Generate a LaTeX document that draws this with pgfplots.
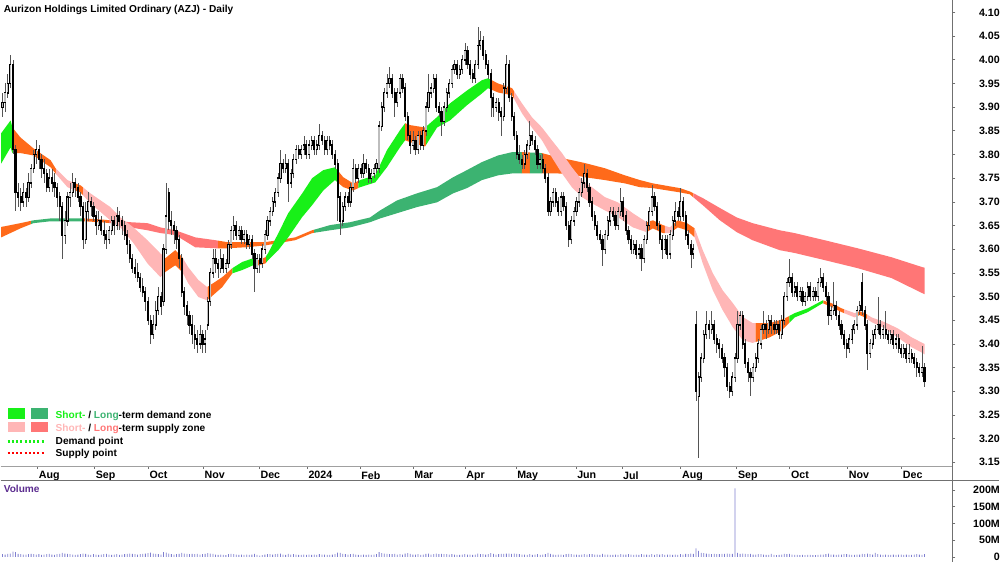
\documentclass[border=0pt]{standalone}
\usepackage{pgfplots}
\pgfplotsset{compat=1.18}
\usepackage{pgfplotstable}
\usepgfplotslibrary{fillbetween}
\usepackage{fontspec}
\setmainfont{Liberation Sans}
\definecolor{sdem}{HTML}{18F018}
\definecolor{ldem}{HTML}{3CB371}
\definecolor{ssup}{HTML}{FFB6B6}
\definecolor{lsup}{HTML}{FF7676}
\definecolor{ovl}{HTML}{FF6A1A}
\definecolor{volc}{HTML}{7F7FD0}
\definecolor{volt}{HTML}{5B2C8F}
\definecolor{upc}{HTML}{BDBDBD}
\definecolor{wick}{HTML}{555555}
\definecolor{axc}{HTML}{A0A0A0}
\definecolor{axd}{HTML}{707070}

\pgfplotstableread{
i o h l c v
0 3.90 3.93 3.88 3.91 8
1 3.91 3.95 3.89 3.93 7
2 3.93 3.97 3.92 3.95 9
3 3.95 4.01 3.94 3.99 10
4 3.99 4.00 3.80 3.81 16
5 3.81 3.82 3.68 3.72 14
6 3.72 3.74 3.69 3.71 9
7 3.71 3.73 3.68 3.70 8
8 3.70 3.74 3.69 3.72 7
9 3.72 3.73 3.69 3.71 7
10 3.71 3.76 3.70 3.74 8
11 3.74 3.78 3.73 3.77 9
12 3.77 3.81 3.76 3.80 8
13 3.80 3.83 3.78 3.81 7
14 3.81 3.82 3.77 3.79 8
15 3.79 3.80 3.75 3.77 6
16 3.77 3.79 3.74 3.76 7
17 3.76 3.77 3.72 3.73 8
18 3.73 3.77 3.72 3.75 9
19 3.75 3.77 3.72 3.74 7
20 3.74 3.76 3.71 3.73 6
21 3.73 3.74 3.69 3.71 8
22 3.71 3.72 3.66 3.69 9
23 3.69 3.70 3.58 3.63 12
24 3.63 3.68 3.61 3.66 10
25 3.66 3.72 3.65 3.71 9
26 3.71 3.74 3.69 3.72 8
27 3.72 3.76 3.71 3.74 7
28 3.74 3.75 3.71 3.73 6
29 3.73 3.74 3.70 3.71 7
30 3.71 3.72 3.67 3.69 8
31 3.69 3.70 3.60 3.62 10
32 3.62 3.70 3.61 3.68 9
33 3.68 3.72 3.66 3.70 7
34 3.70 3.71 3.67 3.69 6
35 3.69 3.70 3.66 3.67 8
36 3.67 3.68 3.63 3.65 7
37 3.65 3.68 3.64 3.66 6
38 3.66 3.67 3.63 3.64 7
39 3.64 3.66 3.61 3.63 8
40 3.63 3.64 3.60 3.62 9
41 3.62 3.65 3.61 3.64 7
42 3.64 3.67 3.63 3.66 6
43 3.66 3.67 3.63 3.65 7
44 3.65 3.69 3.64 3.67 8
45 3.67 3.68 3.64 3.66 6
46 3.66 3.67 3.63 3.65 7
47 3.65 3.66 3.62 3.63 8
48 3.63 3.64 3.59 3.61 9
49 3.61 3.62 3.57 3.58 10
50 3.58 3.59 3.55 3.56 9
51 3.56 3.58 3.54 3.55 8
52 3.55 3.57 3.53 3.54 7
53 3.54 3.55 3.51 3.52 8
54 3.52 3.54 3.50 3.51 9
55 3.51 3.52 3.47 3.49 10
56 3.49 3.50 3.44 3.45 11
57 3.45 3.46 3.40 3.42 13
58 3.42 3.46 3.41 3.44 10
59 3.44 3.49 3.43 3.47 9
60 3.47 3.52 3.46 3.50 8
61 3.50 3.51 3.46 3.48 7
62 3.49 3.61 3.48 3.60 14
63 3.60 3.74 3.59 3.67 13
64 3.72 3.73 3.64 3.66 10
65 3.66 3.68 3.63 3.65 8
66 3.65 3.66 3.61 3.64 7
67 3.64 3.65 3.60 3.62 8
68 3.62 3.63 3.56 3.58 9
69 3.58 3.59 3.50 3.51 12
70 3.51 3.52 3.46 3.48 10
71 3.48 3.49 3.44 3.46 9
72 3.46 3.47 3.42 3.44 8
73 3.44 3.46 3.40 3.42 9
74 3.42 3.44 3.39 3.41 8
75 3.41 3.43 3.38 3.40 9
76 3.40 3.44 3.39 3.42 7
77 3.42 3.43 3.38 3.40 8
78 3.40 3.43 3.38 3.41 9
79 3.44 3.50 3.43 3.49 11
80 3.49 3.56 3.48 3.55 10
81 3.55 3.60 3.54 3.58 9
82 3.58 3.60 3.55 3.57 7
83 3.57 3.58 3.54 3.56 6
84 3.56 3.60 3.55 3.58 7
85 3.58 3.59 3.55 3.56 6
86 3.56 3.58 3.55 3.57 5
87 3.57 3.62 3.56 3.61 8
88 3.61 3.65 3.60 3.64 9
89 3.64 3.67 3.62 3.65 8
90 3.65 3.66 3.62 3.63 7
91 3.63 3.65 3.62 3.64 6
92 3.64 3.65 3.61 3.62 7
93 3.62 3.64 3.61 3.63 6
94 3.63 3.64 3.60 3.61 7
95 3.61 3.63 3.60 3.62 6
96 3.62 3.63 3.58 3.59 7
97 3.59 3.60 3.51 3.56 9
98 3.56 3.59 3.55 3.58 6
99 3.58 3.59 3.55 3.57 4
100 3.57 3.61 3.56 3.60 5
101 3.60 3.64 3.59 3.63 7
102 3.63 3.67 3.62 3.66 8
103 3.66 3.69 3.65 3.68 8
104 3.68 3.71 3.67 3.70 7
105 3.70 3.73 3.69 3.72 8
106 3.72 3.76 3.71 3.75 9
107 3.75 3.81 3.74 3.78 10
108 3.78 3.79 3.76 3.77 7
109 3.77 3.80 3.76 3.78 6
110 3.78 3.79 3.70 3.74 9
111 3.74 3.77 3.73 3.76 7
112 3.76 3.80 3.75 3.79 8
113 3.79 3.82 3.78 3.81 7
114 3.81 3.82 3.79 3.80 6
115 3.80 3.82 3.79 3.81 6
116 3.81 3.84 3.80 3.82 7
117 3.82 3.83 3.79 3.80 6
118 3.80 3.83 3.79 3.82 7
119 3.82 3.84 3.81 3.83 6
120 3.83 3.84 3.80 3.81 7
121 3.81 3.83 3.80 3.82 6
122 3.82 3.865 3.81 3.84 8
123 3.84 3.85 3.82 3.83 7
124 3.83 3.84 3.80 3.81 7
125 3.81 3.84 3.80 3.83 6
126 3.83 3.84 3.81 3.82 6
127 3.82 3.83 3.79 3.80 7
128 3.80 3.81 3.77 3.78 8
129 3.78 3.79 3.66 3.71 13
130 3.71 3.72 3.63 3.66 12
131 3.66 3.70 3.65 3.69 9
132 3.69 3.72 3.68 3.71 8
133 3.71 3.72 3.69 3.70 7
134 3.70 3.74 3.69 3.73 8
135 3.73 3.79 3.72 3.77 9
136 3.77 3.78 3.74 3.75 7
137 3.75 3.78 3.74 3.77 6
138 3.77 3.78 3.75 3.76 6
139 3.76 3.80 3.75 3.78 7
140 3.78 3.79 3.76 3.77 6
141 3.77 3.78 3.74 3.75 7
142 3.75 3.77 3.74 3.76 6
143 3.76 3.78 3.75 3.77 7
144 3.77 3.79 3.76 3.78 8
145 3.77 3.87 3.76 3.86 14
146 3.86 3.91 3.85 3.90 11
147 3.90 3.94 3.89 3.93 10
148 3.93 3.97 3.92 3.95 9
149 3.95 3.985 3.94 3.96 8
150 3.96 3.97 3.92 3.93 8
151 3.93 3.94 3.88 3.91 9
152 3.91 3.94 3.90 3.93 7
153 3.93 3.97 3.92 3.96 8
154 3.96 3.97 3.93 3.94 7
155 3.94 3.95 3.87 3.88 10
156 3.88 3.89 3.83 3.84 11
157 3.84 3.85 3.80 3.82 9
158 3.82 3.85 3.81 3.83 7
159 3.83 3.84 3.80 3.81 7
160 3.81 3.85 3.80 3.84 8
161 3.84 3.85 3.81 3.82 6
162 3.82 3.86 3.81 3.85 7
163 3.85 3.91 3.84 3.90 9
164 3.90 3.97 3.89 3.93 10
165 3.93 3.95 3.92 3.94 7
166 3.94 3.97 3.93 3.96 8
167 3.96 3.97 3.89 3.90 10
168 3.90 3.91 3.88 3.89 8
169 3.89 3.90 3.84 3.87 9
170 3.87 3.91 3.86 3.90 8
171 3.90 3.94 3.89 3.93 8
172 3.93 3.96 3.92 3.95 7
173 3.95 3.99 3.94 3.98 8
174 3.98 4.00 3.97 3.99 7
175 3.99 4.00 3.96 3.97 6
176 3.97 3.99 3.96 3.98 6
177 3.98 4.01 3.97 4.00 7
178 4.00 4.035 3.99 4.02 8
179 4.02 4.03 3.98 3.99 7
180 3.99 4.00 3.96 3.97 7
181 3.97 3.98 3.95 3.96 6
182 3.96 4.00 3.95 3.99 7
183 3.99 4.07 3.98 4.03 10
184 4.03 4.06 4.02 4.04 8
185 4.04 4.05 4.00 4.01 8
186 4.01 4.02 3.98 3.99 7
187 3.99 4.00 3.96 3.97 8
188 3.97 3.98 3.88 3.92 11
189 3.92 3.93 3.88 3.90 9
190 3.90 3.92 3.89 3.91 7
191 3.91 3.92 3.87 3.89 8
192 3.89 3.90 3.84 3.88 9
193 3.88 3.95 3.87 3.94 9
194 3.94 4.01 3.93 3.99 10
195 3.99 4.00 3.91 3.92 10
196 3.92 3.93 3.87 3.88 9
197 3.88 3.89 3.83 3.84 10
198 3.84 3.85 3.79 3.80 9
199 3.80 3.82 3.78 3.79 8
200 3.79 3.80 3.77 3.78 7
201 3.78 3.81 3.77 3.80 7
202 3.80 3.83 3.79 3.82 6
203 3.82 3.87 3.81 3.84 8
204 3.84 3.85 3.82 3.83 6
205 3.83 3.84 3.80 3.81 7
206 3.81 3.82 3.77 3.78 8
207 3.78 3.80 3.77 3.79 6
208 3.79 3.80 3.76 3.77 7
209 3.77 3.78 3.74 3.75 8
210 3.75 3.76 3.67 3.68 12
211 3.68 3.71 3.67 3.70 9
212 3.70 3.73 3.69 3.72 7
213 3.72 3.73 3.69 3.70 6
214 3.70 3.71 3.67 3.68 7
215 3.68 3.72 3.67 3.71 7
216 3.71 3.72 3.68 3.69 6
217 3.69 3.70 3.64 3.65 8
218 3.65 3.66 3.605 3.62 9
219 3.62 3.67 3.61 3.66 8
220 3.66 3.69 3.65 3.68 7
221 3.68 3.71 3.67 3.70 7
222 3.70 3.73 3.69 3.72 6
223 3.72 3.75 3.71 3.74 7
224 3.74 3.78 3.73 3.76 8
225 3.76 3.77 3.72 3.73 7
226 3.73 3.74 3.69 3.70 8
227 3.70 3.71 3.66 3.67 8
228 3.67 3.68 3.64 3.65 7
229 3.65 3.66 3.62 3.63 7
230 3.63 3.64 3.61 3.62 6
231 3.62 3.63 3.565 3.60 9
232 3.60 3.64 3.59 3.63 7
233 3.63 3.67 3.62 3.66 7
234 3.66 3.69 3.65 3.68 6
235 3.68 3.69 3.66 3.67 6
236 3.67 3.68 3.64 3.65 7
237 3.65 3.69 3.64 3.68 6
238 3.68 3.73 3.67 3.70 8
239 3.70 3.71 3.66 3.67 7
240 3.67 3.68 3.63 3.64 7
241 3.64 3.65 3.61 3.62 8
242 3.62 3.63 3.59 3.60 7
243 3.60 3.62 3.59 3.61 6
244 3.61 3.62 3.58 3.59 7
245 3.59 3.61 3.58 3.60 6
246 3.60 3.61 3.555 3.58 8
247 3.58 3.63 3.57 3.62 7
248 3.62 3.66 3.61 3.65 7
249 3.65 3.69 3.64 3.68 6
250 3.68 3.735 3.67 3.71 8
251 3.71 3.72 3.68 3.69 6
252 3.69 3.70 3.64 3.65 8
253 3.65 3.66 3.61 3.62 7
254 3.62 3.63 3.58 3.60 8
255 3.60 3.63 3.59 3.62 6
256 3.62 3.63 3.58 3.59 7
257 3.59 3.64 3.58 3.63 7
258 3.63 3.67 3.62 3.66 6
259 3.66 3.70 3.65 3.68 7
260 3.68 3.69 3.66 3.67 6
261 3.67 3.73 3.66 3.70 8
262 3.70 3.71 3.66 3.67 7
263 3.67 3.68 3.62 3.63 9
264 3.63 3.64 3.60 3.61 8
265 3.61 3.62 3.56 3.59 10
266 3.59 3.61 3.58 3.60 9
267 3.44 3.47 3.28 3.30 25
268 3.29 3.34 3.16 3.33 18
269 3.33 3.38 3.32 3.37 12
270 3.37 3.43 3.36 3.42 11
271 3.42 3.47 3.41 3.44 10
272 3.44 3.45 3.41 3.43 9
273 3.43 3.47 3.42 3.44 8
274 3.44 3.45 3.40 3.41 9
275 3.41 3.42 3.38 3.40 8
276 3.40 3.41 3.37 3.39 8
277 3.39 3.40 3.36 3.37 9
278 3.37 3.38 3.33 3.35 9
279 3.35 3.36 3.30 3.31 10
280 3.31 3.32 3.285 3.30 9
281 3.30 3.34 3.29 3.33 9
282 3.33 3.38 3.32 3.37 205
283 3.37 3.47 3.36 3.44 12
284 3.44 3.47 3.43 3.46 9
285 3.46 3.47 3.39 3.40 10
286 3.40 3.41 3.35 3.36 9
287 3.36 3.37 3.32 3.34 8
288 3.34 3.35 3.29 3.33 9
289 3.33 3.36 3.32 3.35 7
290 3.35 3.38 3.34 3.37 7
291 3.37 3.41 3.36 3.40 8
292 3.40 3.44 3.39 3.43 8
293 3.43 3.47 3.42 3.44 7
294 3.44 3.45 3.41 3.43 6
295 3.43 3.46 3.42 3.45 6
296 3.45 3.46 3.42 3.44 9
297 3.44 3.45 3.42 3.43 6
298 3.43 3.45 3.42 3.44 5
299 3.44 3.45 3.41 3.42 6
300 3.42 3.46 3.41 3.45 7
301 3.45 3.51 3.44 3.50 9
302 3.50 3.54 3.49 3.53 8
303 3.53 3.58 3.52 3.54 9
304 3.54 3.55 3.50 3.51 7
305 3.51 3.53 3.50 3.52 6
306 3.52 3.53 3.49 3.50 6
307 3.50 3.52 3.49 3.51 5
308 3.51 3.52 3.48 3.49 6
309 3.49 3.51 3.48 3.50 5
310 3.50 3.53 3.49 3.52 6
311 3.52 3.53 3.49 3.50 6
312 3.50 3.52 3.49 3.51 5
313 3.51 3.52 3.49 3.50 5
314 3.50 3.54 3.49 3.53 6
315 3.53 3.56 3.52 3.54 7
316 3.54 3.55 3.51 3.52 7
317 3.52 3.53 3.49 3.50 8
318 3.50 3.51 3.44 3.46 10
319 3.46 3.48 3.45 3.47 7
320 3.47 3.53 3.46 3.48 7
321 3.48 3.49 3.45 3.46 6
322 3.46 3.47 3.43 3.44 7
323 3.44 3.45 3.41 3.42 7
324 3.42 3.43 3.39 3.40 8
325 3.40 3.41 3.37 3.39 8
326 3.39 3.42 3.38 3.41 7
327 3.41 3.44 3.40 3.43 6
328 3.43 3.45 3.42 3.44 6
329 3.44 3.48 3.43 3.47 7
330 3.47 3.49 3.46 3.48 7
331 3.53 3.55 3.46 3.47 9
332 3.47 3.48 3.43 3.44 8
333 3.44 3.45 3.345 3.38 10
334 3.38 3.41 3.37 3.40 8
335 3.40 3.43 3.39 3.42 7
336 3.42 3.44 3.41 3.43 12
337 3.43 3.50 3.42 3.44 8
338 3.44 3.45 3.41 3.42 7
339 3.42 3.44 3.41 3.43 6
340 3.43 3.47 3.41 3.42 7
341 3.42 3.43 3.40 3.41 6
342 3.41 3.43 3.40 3.42 6
343 3.42 3.43 3.39 3.40 7
344 3.40 3.42 3.39 3.41 6
345 3.41 3.42 3.38 3.39 7
346 3.39 3.40 3.37 3.38 7
347 3.38 3.40 3.37 3.39 6
348 3.39 3.40 3.36 3.37 7
349 3.37 3.40 3.36 3.38 6
350 3.38 3.39 3.36 3.37 6
351 3.37 3.38 3.35 3.36 7
352 3.36 3.37 3.33 3.35 8
353 3.35 3.36 3.33 3.34 7
354 3.34 3.395 3.33 3.35 6
355 3.35 3.36 3.31 3.32 8
}\ohlc

\pgfplotstableread{
i t b
-0.5 3.845 3.781
3.1 3.872 3.815
3.8 3.857 3.803
6.9 3.836 3.803
11.9 3.813 3.798
18.5 3.788 3.773
20.4 3.771 3.760
25 3.746 3.731
28 3.739 3.724
30 3.735 3.720
33.8 3.718 3.697
41.5 3.689 3.661
45.4 3.667 3.646
50.4 3.646 3.613
55.8 3.619 3.570
60.8 3.591 3.541
62.7 3.581 3.552
66.5 3.598 3.566
69.2 3.583 3.552
71.5 3.562 3.528
75.4 3.535 3.499
78.8 3.520 3.492
84.6 3.541 3.520
88.5 3.560 3.549
92.3 3.573 3.556
96.5 3.581 3.566
98.5 3.577 3.566
101.2 3.583 3.570
102.3 3.592 3.577
106.2 3.634 3.598
110 3.676 3.625
115.4 3.718 3.668
119.2 3.750 3.693
123.5 3.767 3.724
128 3.773 3.746
131.2 3.752 3.731
135 3.739 3.724
137.7 3.746 3.731
143.5 3.756 3.741
148 3.809 3.773
153 3.851 3.815
155 3.866 3.830
157 3.862 3.826
162.7 3.857 3.817
167.3 3.879 3.857
172.3 3.908 3.872
178.8 3.935 3.904
184.6 3.957 3.929
186.9 3.961 3.940
190.8 3.950 3.931
196.2 3.940 3.925
200 3.908 3.887
203.8 3.879 3.857
207.7 3.857 3.830
211.5 3.830 3.794
215.4 3.803 3.760
219.2 3.773 3.731
223.1 3.746 3.710
226.9 3.731 3.697
231.9 3.710 3.682
236.9 3.699 3.668
242.7 3.676 3.646
248 3.657 3.636
250.4 3.661 3.644
254.2 3.651 3.634
256.9 3.646 3.634
260 3.661 3.646
263.5 3.655 3.640
266.5 3.644 3.625
269.6 3.598 3.570
273.5 3.549 3.513
277.3 3.513 3.471
281.2 3.486 3.435
285 3.457 3.408
288.8 3.444 3.402
295.4 3.444 3.414
299.2 3.450 3.425
301.2 3.454 3.435
305 3.465 3.456
310 3.475 3.467
315.8 3.492 3.486
319.2 3.486 3.478
323.1 3.475 3.467
328.1 3.465 3.456
330 3.469 3.461
332 3.465 3.456
334.6 3.456 3.446
339.6 3.446 3.433
344.6 3.433 3.414
350 3.414 3.393
354.2 3.402 3.381
355 3.400 3.378
}\sband

\pgfplotstableread{
i t b
-0.5 3.647 3.625
6.9 3.655 3.644
11.9 3.661 3.655
18.5 3.665 3.659
23.5 3.665 3.659
31.2 3.665 3.659
37.7 3.663 3.657
41.5 3.661 3.655
49.2 3.657 3.646
55.8 3.655 3.640
60.8 3.646 3.634
66.5 3.640 3.630
74.2 3.625 3.604
81.9 3.619 3.602
86.5 3.615 3.602
93.5 3.615 3.604
101.2 3.615 3.608
106.2 3.619 3.613
112.7 3.625 3.619
119.2 3.640 3.634
126.2 3.651 3.640
133.8 3.657 3.646
141.5 3.667 3.657
145.4 3.682 3.665
151.9 3.703 3.676
159.6 3.718 3.689
167.3 3.731 3.699
173.5 3.752 3.718
178.8 3.767 3.729
184.6 3.784 3.746
190.8 3.798 3.756
196.2 3.805 3.760
200 3.805 3.760
207.7 3.803 3.760
213.8 3.794 3.760
219.2 3.788 3.758
224.2 3.782 3.752
231.9 3.771 3.746
239.6 3.756 3.739
245.4 3.746 3.731
250.4 3.739 3.729
260.8 3.729 3.720
264.6 3.722 3.716
269.6 3.708 3.693
276.2 3.687 3.661
282.7 3.667 3.636
288.8 3.655 3.619
299.2 3.640 3.598
305 3.634 3.592
316.5 3.619 3.577
329.2 3.602 3.560
342.3 3.583 3.539
354.2 3.562 3.507
355 3.561 3.505
}\lband

\newcommand{\lab}{\fontsize{7.6}{9}\selectfont\bfseries}
\newcommand{\tlab}{\fontsize{8}{9}\selectfont\bfseries}
\newcommand{\segL}[3]{\addplot[fill=#1, draw=none] fill between[of=lT and lB, soft clip={(#2,3.0) rectangle (#3,4.3)}];}
\newcommand{\segS}[3]{\addplot[fill=#1, draw=none] fill between[of=sT and sB, soft clip={(#2,3.0) rectangle (#3,4.3)}];}

\begin{document}
\begin{tikzpicture}

% ---------------- price panel ----------------
\begin{axis}[
  at={(0pt,0pt)}, anchor=north west, scale only axis,
  width=714.75pt, height=349.5pt,
  xmin=-0.77, xmax=365.77, ymin=3.1422, ymax=4.1253,
  axis x line*=bottom, axis y line*=right,
  x axis line style={draw=axc, line width=0.7pt},
  y axis line style={draw=none},
  tick align=outside, major tick length=2.2pt,
  tick style={draw=axd, line width=0.5pt},
  /pgf/number format/assume math mode=true,
  ytick={3.15,3.2,3.25,3.3,3.35,3.4,3.45,3.5,3.55,3.6,3.65,3.7,3.75,3.8,3.85,3.9,3.95,4.0,4.05,4.1},
  yticklabels={3.15,3.20,3.25,3.30,3.35,3.40,3.45,3.50,3.55,3.60,3.65,3.70,3.75,3.80,3.85,3.90,3.95,4.00,4.05,4.10},
  yticklabel style={anchor=east, inner sep=0pt, xshift=33.5pt, font=\tlab},
  xtick={13.46,35.38,56.15,77.31,98.85,117.31,137.69,158.08,178.08,197.69,220.77,238.46,261.15,282.69,303.08,325.38,346.15},
  xticklabels={Aug,Sep,Oct,Nov,Dec,2024,Feb,Mar,Apr,May,Jun,Jul,Aug,Sep,Oct,Nov,Dec},
  xticklabel style={anchor=north west, inner sep=0pt, xshift=0.8pt, yshift=-1.6pt, font=\tlab},
  clip=true,
]
\addplot[draw=none, name path=sT] table[x=i, y=t] {\sband};
\addplot[draw=none, name path=sB] table[x=i, y=b] {\sband};
\addplot[draw=none, name path=lT] table[x=i, y=t] {\lband};
\addplot[draw=none, name path=lB] table[x=i, y=b] {\lband};

% long-term zone
\segL{ovl}{-1}{11}
\segL{ldem}{11}{31}
\segL{ovl}{31}{41}
\segL{lsup}{41}{83}
\segL{ovl}{83}{120}
\segL{ldem}{120}{200}
\segL{ovl}{200}{203}
\segL{ldem}{203}{207.7}
\segL{ovl}{207.7}{266}
\segL{lsup}{266}{356}

% short-term zone
\segS{sdem}{-1}{4}
\segS{ovl}{4}{20.5}
\segS{ssup}{20.5}{28}
\segS{ovl}{28}{31}
\segS{ssup}{31}{62}
\segS{ovl}{62}{69.5}
\segS{ssup}{69.5}{79}
\segS{ovl}{79}{88.5}
\segS{sdem}{88.5}{97}
\segS{ovl}{97}{101.5}
\segS{sdem}{101.5}{128.8}
\segS{ovl}{128.8}{137}
\segS{sdem}{137}{155}
\segS{ovl}{155}{163}
\segS{sdem}{163}{188}
\segS{ovl}{188}{197}
\segS{ssup}{197}{248}
\segS{ovl}{248}{255}
\segS{ssup}{255}{258}
\segS{ovl}{258}{266.5}
\segS{ssup}{266.5}{290}
\segS{ovl}{290}{303}
\segS{sdem}{303}{316}
\segS{ovl}{316}{324}
\segS{ssup}{324}{329}
\segS{ovl}{329}{333}
\segS{ssup}{333}{356}

% wicks (high-low)
\addplot[draw=none, mark=none,
  error bars/.cd, y dir=both, y explicit, error mark=none,
  error bar style={line width=0.45pt, draw=wick}]
  table[x=i, y expr={(\thisrow{h}+\thisrow{l})/2}, y error expr={(\thisrow{h}-\thisrow{l})/2}] {\ohlc};
% bodies (open-close), dark outline for every candle
\addplot[quiver={u=0, v={abs(\thisrow{c}-\thisrow{o})+0.003}}, -, draw=black, line width=1.6pt, mark=none]
  table[x=i, y expr={min(\thisrow{o},\thisrow{c})-0.0015}] {\ohlc};
% light interior of rising candles
\addplot[quiver={u=0, v={max(\thisrow{c}-\thisrow{o}-0.002,0)}}, -, draw=upc, line width=1.0pt, mark=none]
  table[x=i, y expr={\thisrow{o}+0.001}] {\ohlc};
\end{axis}

% ---------------- volume panel ----------------
\begin{axis}[
  at={(0pt,-360.75pt)}, anchor=north west, scale only axis,
  width=714.75pt, height=60.75pt,
  xmin=-0.77, xmax=365.77, ymin=-15, ymax=227,
  axis x line=none, axis y line*=right,
  y axis line style={draw=none},
  tick align=outside, major tick length=2.2pt,
  tick style={draw=axd, line width=0.5pt},
  ytick={0,50,100,150,200},
  yticklabels={0,50M,100M,150M,200M},
  yticklabel style={anchor=east, inner sep=0pt, xshift=33.5pt, font=\tlab},
  clip=true,
]
\addplot[ybar, bar width=0.6pt, fill=volc, draw=none] table[x=i, y=v] {\ohlc};
\end{axis}

% ---------------- frame, title, legend ----------------
\begin{scope}[x=0.75pt, y=-0.75pt]
\draw[axd, line width=0.7pt] (953,0) -- (953,562);
\draw[axd, line width=0.8pt] (0,480.5) -- (1000,480.5);
\node[anchor=base west, inner sep=0pt, font=\lab] at (3,12.5) {Aurizon Holdings Limited Ordinary (AZJ) - Daily};
\node[anchor=base west, inner sep=0pt, font=\lab, text=volt] at (3,493) {Volume};
\fill[sdem] (7,408) rectangle (24,419);
\fill[ldem] (31,408) rectangle (48,419);
\node[anchor=base west, inner sep=0pt, font=\lab] at (55,418) {\textcolor{sdem}{Short-} / \textcolor{ldem}{Long}-term demand zone};
\fill[ssup] (7,422) rectangle (24,432);
\fill[lsup] (31,422) rectangle (48,432);
\node[anchor=base west, inner sep=0pt, font=\lab] at (55,431) {\textcolor{ssup}{Short-} / \textcolor{lsup}{Long}-term supply zone};
\draw[sdem, line width=2.2pt, dash pattern=on 1.6pt off 1.6pt] (7,441.5) -- (44,441.5);
\node[anchor=base west, inner sep=0pt, font=\lab] at (55,445) {Demand point};
\draw[red, line width=2.2pt, dash pattern=on 1.6pt off 1.6pt] (7,453) -- (44,453);
\node[anchor=base west, inner sep=0pt, font=\lab] at (55,457) {Supply point};
\path (0,0) rectangle (1000,562);
\end{scope}
\end{tikzpicture}
\end{document}
